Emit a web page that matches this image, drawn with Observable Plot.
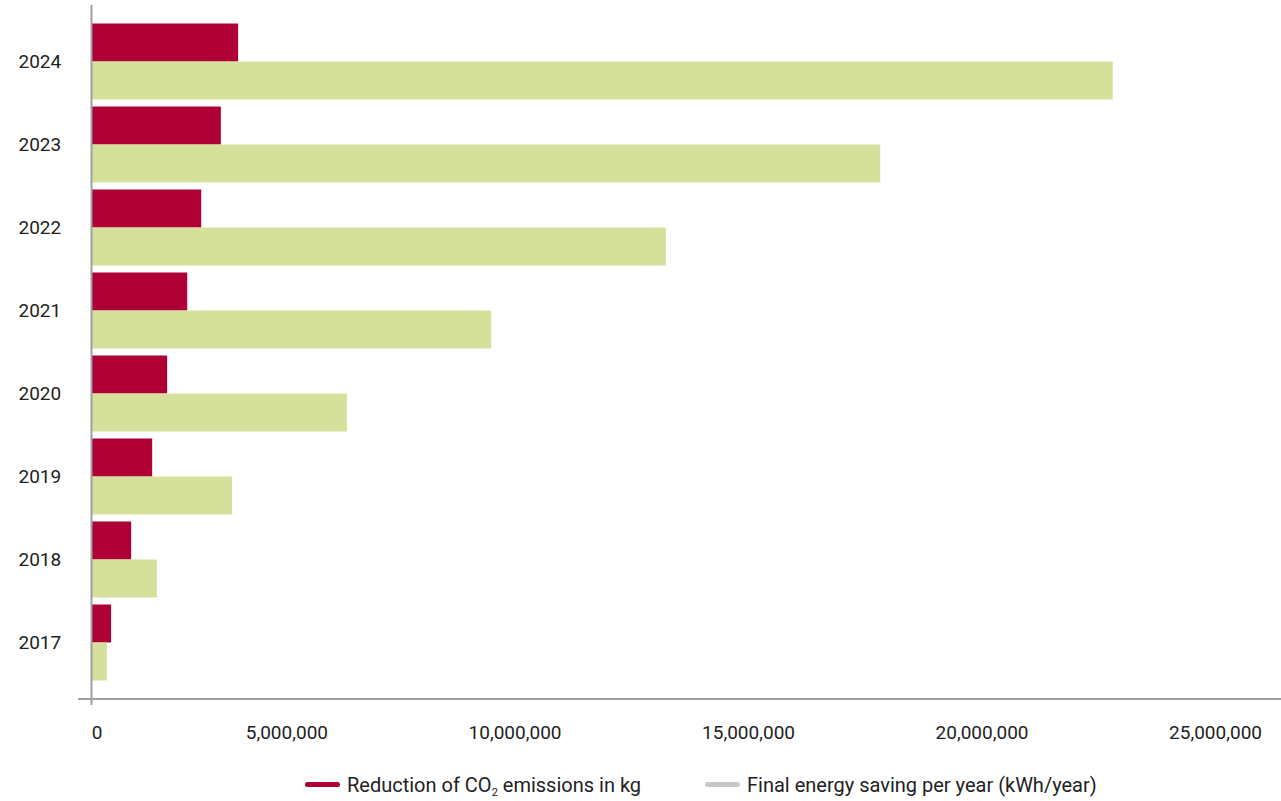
<!DOCTYPE html>
<html>
<head>
<meta charset="utf-8">
<script src="https://cdn.jsdelivr.net/npm/d3@7"></script>
<script src="https://cdn.jsdelivr.net/npm/@observablehq/plot@0.6"></script>
<style>
  html, body { margin: 0; padding: 0; background: #fff; }
  body { width: 1281px; height: 801px; overflow: hidden; font-family: Roboto, "Noto Sans", sans-serif; color: #222; }
  #legend { position: relative; height: 41px; font-size: 20px; margin-top: 4px; }
  .item { position: absolute; top: 0; height: 41px; display: flex; align-items: center; }
  .sw { width: 35px; height: 5px; border-radius: 3px; margin-right: 7px; }
  sub { font-size: 11px; vertical-align: -4px; line-height: 0; }
</style>
</head>
<body>
<div id="chart"></div>
<div id="legend">
  <div class="item" style="left:305px"><span class="sw" style="background:#ae0034"></span><span>Reduction of CO<sub>2</sub> emissions in kg</span></div>
  <div class="item" style="left:705px"><span class="sw" style="background:#c8c8c8"></span><span>Final energy saving per year (kWh/year)</span></div>
</div>
<script>
const years = ["2024", "2023", "2022", "2021", "2020", "2019", "2018", "2017"];
const co2Reduction = [3150000, 2780000, 2360000, 2060000, 1630000, 1310000, 860000, 430000];
const energySaving = [21880000, 16900000, 12310000, 8570000, 5480000, 3020000, 1410000, 340000];
const xTicks = [0, 5000000, 10000000, 15000000, 20000000, 25000000];

const co2Data = years.map((y, i) => ({year: y, value: co2Reduction[i]}));
const energyData = years.map((y, i) => ({year: y, value: energySaving[i]}));

const chart = Plot.plot({
  width: 1281,
  height: 760,
  marginLeft: 91,
  marginRight: 22.5,
  marginTop: 5,
  marginBottom: 61,
  style: {fontSize: "19px", fontFamily: "Roboto, 'Noto Sans', sans-serif", color: "#222", background: "#fff"},
  x: {domain: [0, 25000000], axis: null, label: null},
  y: {domain: years, paddingInner: 0.0843, paddingOuter: 0.223, round: false, axis: null, label: null},
  marks: [
    Plot.barX(co2Data, {x: "value", y: "year", fill: "#ae0034", insetBottom: 38}),
    Plot.barX(energyData, {x: "value", y: "year", fill: "#d5e19b", insetTop: 38}),
    Plot.ruleX([0], {stroke: "#a0a0a0", strokeWidth: 2, insetBottom: -6}),
    Plot.ruleY([years[years.length - 1]], {x1: 0, x2: 25000000, dy: 56, insetLeft: -13, insetRight: -22.5, stroke: "#a0a0a0", strokeWidth: 2}),
    Plot.axisX({ticks: xTicks.slice(0, 1), tickFormat: d3.format(","), tickSize: 0, tickPadding: 26, textAnchor: "end", dx: 11, fill: "#222", label: null}),
    Plot.axisX({ticks: xTicks.slice(1), tickFormat: d3.format(","), tickSize: 0, tickPadding: 26, textAnchor: "end", dx: 3, fill: "#222", label: null}),
    Plot.axisY({tickSize: 0, tickPadding: 73, textAnchor: "start", fill: "#222", label: null})
  ]
});
document.getElementById("chart").append(chart);
</script>
</body>
</html>
